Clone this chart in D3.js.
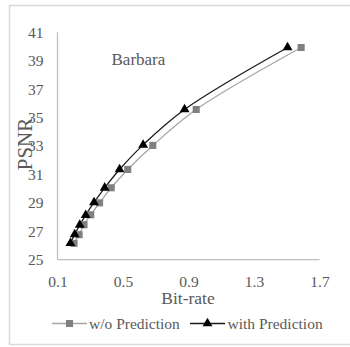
<!DOCTYPE html>
<html><head><meta charset="utf-8">
<script src="https://cdn.jsdelivr.net/npm/d3@7"></script>
<style>
html,body{margin:0;padding:0;background:#fff;}
svg{display:block;font-family:"Liberation Serif","Times New Roman",serif;}
</style></head>
<body><div id="chart"></div>
<script>
const woRate = [0.201,0.232,0.262,0.303,0.357,0.428,0.529,0.682,0.947,1.588];
const woPsnr = [26.15,26.76,27.46,28.16,29.00,30.06,31.35,33.04,35.57,39.93];
const withRate = [0.179,0.205,0.236,0.272,0.323,0.388,0.479,0.623,0.876,1.505];
const withPsnr = [26.17,26.78,27.44,28.14,29.03,30.06,31.35,33.08,35.57,39.93];
const xTicks = [0.1,0.5,0.9,1.3,1.7];
const yTicks = [25,27,29,31,33,35,37,39,41];
const seriesNames = ["w/o Prediction","with Prediction"];
const chartTitle = "Barbara";

const W=350,H=347;
const svg=d3.select("#chart").append("svg").attr("width",W).attr("height",H);
svg.append("rect").attr("x",9.5).attr("y",5.5).attr("width",350).attr("height",339)
  .attr("fill","#fff").attr("stroke","#d9d9d9").attr("stroke-width",1.5);

const L=57.5,R=319.5,T=32.3,B=259.7;
const x=d3.scaleLinear().domain([0.1,1.7]).range([L,R]);
const y=d3.scaleLinear().domain([25,41]).range([B,T]);
const txt="#595959";

const xa=svg.append("g").attr("transform",`translate(0,${B})`)
  .call(d3.axisBottom(x).tickValues(xTicks).tickSize(0).tickPadding(16).tickFormat(d3.format(".1f")));
const ya=svg.append("g").attr("transform",`translate(${L},0)`)
  .call(d3.axisLeft(y).tickValues(yTicks).tickSize(0).tickPadding(14).tickFormat(d3.format("d")));
[xa,ya].forEach(a=>{
  a.select(".domain").attr("stroke","#bfbfbf").attr("stroke-width",1.3);
  a.selectAll("text").attr("fill",txt).attr("font-size","15.5px").attr("font-family","Liberation Serif, serif");
});
xa.select(".domain").attr("d",`M${L},0H${R}`);
ya.select(".domain").attr("d",`M0,${T}V${B}`);

const wo=woRate.map((r,i)=>[r,woPsnr[i]]);
const wi=withRate.map((r,i)=>[r,withPsnr[i]]);
const line=d3.line().x(d=>x(d[0])).y(d=>y(d[1])).curve(d3.curveCatmullRom);

svg.append("path").attr("d",line(wo)).attr("fill","none").attr("stroke","#a6a6a6").attr("stroke-width",1.3);
svg.append("path").attr("d",line(wi)).attr("fill","none").attr("stroke","#1a1a1a").attr("stroke-width",1.3);

const sq=d3.symbol().type(d3.symbolSquare).size(50);
const tri=d3.symbol().type(d3.symbolTriangle).size(42);
svg.selectAll(".sq").data(wo).join("path").attr("d",sq)
  .attr("transform",d=>`translate(${x(d[0])},${y(d[1])})`).attr("fill","#808080");
svg.selectAll(".tri").data(wi).join("path").attr("d",tri)
  .attr("transform",d=>`translate(${x(d[0])},${y(d[1])})`).attr("fill","#000");

svg.append("text").attr("x",111.5).attr("y",65).attr("font-size","17px").attr("fill",txt).text(chartTitle);
svg.append("text").attr("x",188).attr("y",304).attr("text-anchor","middle").attr("font-size","17.5px").attr("fill",txt).text("Bit-rate");
svg.append("text").attr("transform","translate(32,144) rotate(-90)").attr("text-anchor","middle")
  .attr("font-size","21px").attr("fill",txt).text("PSNR");

const ly=323.5;
const lg=svg.append("g");
lg.append("line").attr("x1",52).attr("x2",87).attr("y1",ly).attr("y2",ly).attr("stroke","#a6a6a6").attr("stroke-width",1.3);
lg.append("path").attr("d",sq).attr("transform",`translate(69.5,${ly})`).attr("fill","#808080");
lg.append("text").attr("x",89).attr("y",ly+5).attr("font-size","15.5px").attr("fill",txt).text(seriesNames[0]);
lg.append("line").attr("x1",190).attr("x2",225).attr("y1",ly).attr("y2",ly).attr("stroke","#1a1a1a").attr("stroke-width",1.3);
lg.append("path").attr("d",tri).attr("transform",`translate(207.5,${ly})`).attr("fill","#000");
lg.append("text").attr("x",227.5).attr("y",ly+5).attr("font-size","15.5px").attr("fill",txt).text(seriesNames[1]);
</script></body></html>
